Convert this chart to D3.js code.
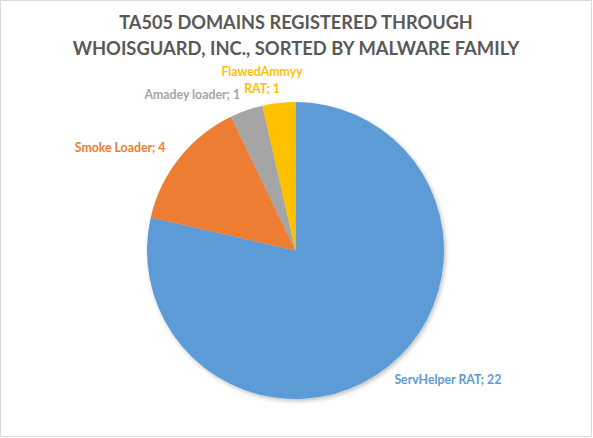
<!DOCTYPE html>
<html>
<head>
<meta charset="utf-8">
<script src="https://cdn.jsdelivr.net/npm/d3@7"></script>
<style>
  body { margin: 0; background: #fff; }
  svg { display: block; }
</style>
</head>
<body>
<div id="chart"></div>
<script>
const width = 593;
const height = 438;

// Data
const families = ["ServHelper RAT", "Smoke Loader", "Amadey loader", "FlawedAmmyy RAT"];
const domainCounts = [22, 4, 1, 1];
const sliceColors = ["#5B9BD5", "#ED7D31", "#A5A5A5", "#FFC000"];
const titleLines = ["TA505 DOMAINS REGISTERED THROUGH", "WHOISGUARD, INC., SORTED BY MALWARE FAMILY"];

const cx = 295.5, cy = 250.5, radius = 148.5;

const svg = d3.select("#chart")
    .append("svg")
    .attr("width", width)
    .attr("height", height);

// soft shadow like the office default
const defs = svg.append("defs");
defs.append("filter")
    .attr("id", "shadow")
    .attr("x", "-10%").attr("y", "-10%")
    .attr("width", "130%").attr("height", "130%")
    .append("feDropShadow")
    .attr("dx", 1.5)
    .attr("dy", 2)
    .attr("stdDeviation", 2)
    .attr("flood-color", "#000")
    .attr("flood-opacity", 0.25);

// chart frame
svg.append("rect")
    .attr("x", 0.5)
    .attr("y", 0.5)
    .attr("width", 591)
    .attr("height", 436)
    .attr("fill", "#fff")
    .attr("stroke", "#D9D9D9");

// Title, squeezed to the width it has in the reference
const titleWidths = [354, 447];
const title = svg.append("g");
titleLines.forEach((line, i) => {
    const t = title.append("text")
        .attr("x", width / 2 - 0.5)
        .attr("y", 29 + i * 26)
        .attr("text-anchor", "middle")
        .attr("font-family", "Lato, 'Open Sans', sans-serif")
        .attr("font-weight", "bold")
        .attr("font-size", 18)
        .attr("fill", "#595959")
        .text(line);
    const len = t.node().getComputedTextLength();
    t.attr("font-size", 18 * titleWidths[i] / len);
});

const data = families.map((name, i) => ({ name, value: domainCounts[i], color: sliceColors[i] }));

const pie = d3.pie()
    .sort(null)
    .value(d => d.value);

const arc = d3.arc()
    .innerRadius(0)
    .outerRadius(radius);

const arcs = pie(data);

const pieGroup = svg.append("g")
    .attr("transform", `translate(${cx},${cy})`);

pieGroup.append("g")
    .attr("filter", "url(#shadow)")
    .selectAll("path")
    .data(arcs)
    .join("path")
    .attr("d", arc)
    .attr("fill", d => d.data.color);

// Labels outside the pie, along each slice's middle angle
const labelRadius = 165;
const labels = pieGroup.append("g")
    .attr("font-family", "Lato, 'Open Sans', sans-serif")
    .attr("font-weight", "bold")
    .attr("font-size", 12.3);

arcs.forEach(d => {
    const mid = (d.startAngle + d.endAngle) / 2;
    const sx = Math.sin(mid), sy = -Math.cos(mid);
    let x = labelRadius * sx;
    let y = labelRadius * sy;
    const text = `${d.data.name}; ${d.data.value}`;
    const lab = labels.append("text")
        .attr("fill", d.data.color);

    if (Math.abs(sx) < 0.2) {
        // near the top: wrapped on two lines, centred
        const words = d.data.name.split(" ");
        const first = words.slice(0, -1).join(" ");
        const second = `${words[words.length - 1]}; ${d.data.value}`;
        lab.attr("text-anchor", "middle");
        lab.append("tspan").attr("x", x - 15).attr("y", y - 11).text(first);
        lab.append("tspan").attr("x", x - 15).attr("y", y + 6).text(second);
    } else {
        lab.attr("text-anchor", sx < 0 ? "end" : "start")
            .attr("x", sx < 0 ? x - 1 : x - 4)
            .attr("y", y + 4)
            .text(text);
    }
});
</script>
</body>
</html>
